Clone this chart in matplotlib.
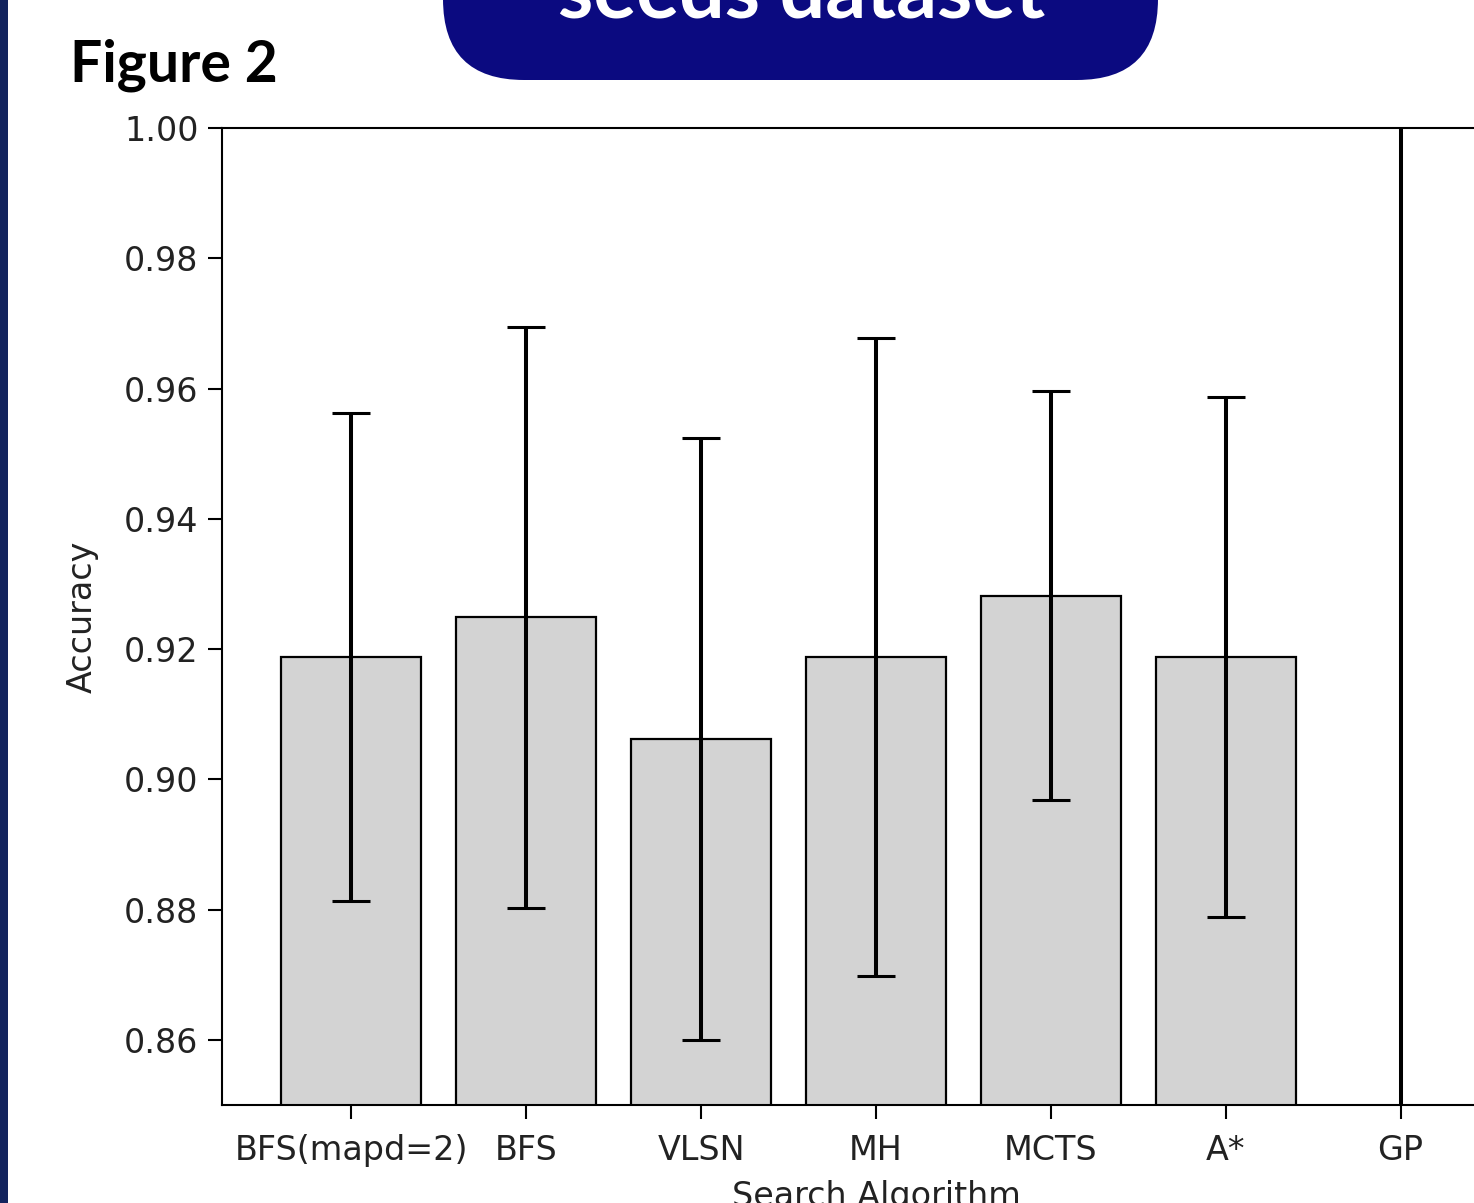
import matplotlib
matplotlib.use("Agg")
import matplotlib.pyplot as plt
from matplotlib.patches import FancyBboxPatch, Rectangle

categories = ["BFS(mapd=2)", "BFS", "VLSN", "MH", "MCTS", "A*", "GP"]
means = [0.9188, 0.9249, 0.9062, 0.9188, 0.9282, 0.9188, 0.62]
errors = [0.0375, 0.0446, 0.0462, 0.0490, 0.0314, 0.0399, 0.40]
yticks = [0.86, 0.88, 0.90, 0.92, 0.94, 0.96, 0.98, 1.00]

W, H = 1474, 1203
fig = plt.figure(figsize=(W / 100, H / 100), dpi=100)
fig.patch.set_facecolor("white")

# slide decorations
fig.patches.append(Rectangle((0, 0), 8 / W, 1, transform=fig.transFigure,
                             facecolor="#13245e", edgecolor="none", zorder=0))
pill = FancyBboxPatch((443 / W, 1 - 80 / H), (1158 - 443) / W, 200 / H,
                      boxstyle="round,pad=0,rounding_size=0.055",
                      transform=fig.transFigure, facecolor="#0b0a80",
                      edgecolor="none", mutation_aspect=W / H)
fig.patches.append(pill)
fig.text(802 / W, 1 - 17 / H, "seeds dataset", color="white", fontsize=58,
         fontweight="bold", family="Lato", ha="center", va="baseline")
fig.text(70 / W, 1 - 81 / H, "Figure 2", color="black", fontsize=41,
         fontweight="bold", family="Lato", ha="left", va="baseline")

# axes (right part extends beyond the visible crop)
left, right, top, bottom = 222, 1530, 128, 1105
ax = fig.add_axes([left / W, 1 - bottom / H, (right - left) / W, (bottom - top) / H])
x = range(len(categories))
ax.bar(x, means, width=0.8, color="lightgray", edgecolor="black", linewidth=1.6,
       yerr=errors, error_kw=dict(elinewidth=2.9, capsize=14, capthick=2.2, ecolor="black"))
ax.set_ylim(0.85, 1.00)
ax.set_xlim(-0.74, 6.74)
ax.set_yticks(yticks)
ax.set_yticklabels([f"{v:.2f}" for v in yticks])
ax.set_xticks(list(x))
ax.set_xticklabels(categories)
ax.tick_params(labelsize=24, length=10, width=1.5, pad=7, colors="black", labelcolor="#222222")
ax.tick_params(axis="x", pad=11)
for s in ax.spines.values():
    s.set_linewidth(1.5)
ax.set_ylabel("Accuracy", fontsize=24, color="#222222", labelpad=18)
ax.set_xlabel("Search Algorithm", fontsize=24, color="#222222", labelpad=9)

fig.savefig("out.png", dpi=100)
